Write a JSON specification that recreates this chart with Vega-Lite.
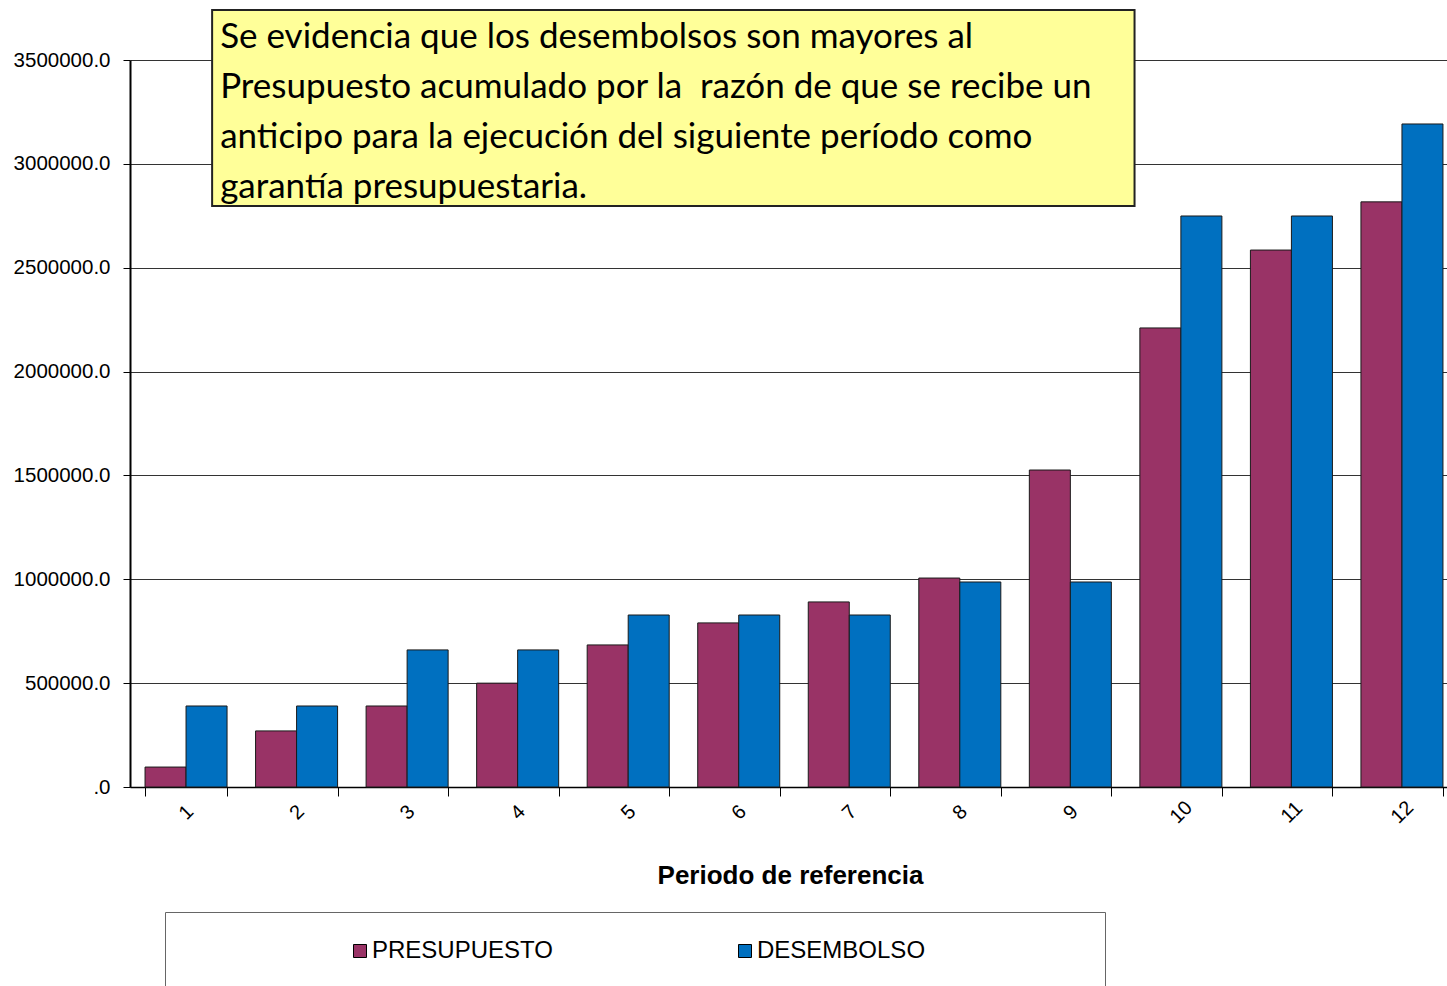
{
  "$schema": "https://vega.github.io/schema/vega-lite/v6.json",
  "width": 1328,
  "height": 727,
  "autosize": {"type": "none"},
  "padding": {"left": 130, "top": 60, "right": 0, "bottom": 199},
  "background": "white",
  "config": {"view": {"stroke": null}, "font": "Liberation Sans"},
  "data": {
    "values": [
      {"periodo": 1, "serie": "PRESUPUESTO", "valor": 96000},
      {"periodo": 1, "serie": "DESEMBOLSO", "valor": 390000},
      {"periodo": 2, "serie": "PRESUPUESTO", "valor": 270000},
      {"periodo": 2, "serie": "DESEMBOLSO", "valor": 390000},
      {"periodo": 3, "serie": "PRESUPUESTO", "valor": 390000},
      {"periodo": 3, "serie": "DESEMBOLSO", "valor": 660000},
      {"periodo": 4, "serie": "PRESUPUESTO", "valor": 500000},
      {"periodo": 4, "serie": "DESEMBOLSO", "valor": 660000},
      {"periodo": 5, "serie": "PRESUPUESTO", "valor": 684000},
      {"periodo": 5, "serie": "DESEMBOLSO", "valor": 828000},
      {"periodo": 6, "serie": "PRESUPUESTO", "valor": 790000},
      {"periodo": 6, "serie": "DESEMBOLSO", "valor": 828000},
      {"periodo": 7, "serie": "PRESUPUESTO", "valor": 891000},
      {"periodo": 7, "serie": "DESEMBOLSO", "valor": 828000},
      {"periodo": 8, "serie": "PRESUPUESTO", "valor": 1006000},
      {"periodo": 8, "serie": "DESEMBOLSO", "valor": 987000},
      {"periodo": 9, "serie": "PRESUPUESTO", "valor": 1526000},
      {"periodo": 9, "serie": "DESEMBOLSO", "valor": 987000},
      {"periodo": 10, "serie": "PRESUPUESTO", "valor": 2210000},
      {"periodo": 10, "serie": "DESEMBOLSO", "valor": 2749000},
      {"periodo": 11, "serie": "PRESUPUESTO", "valor": 2585000},
      {"periodo": 11, "serie": "DESEMBOLSO", "valor": 2749000},
      {"periodo": 12, "serie": "PRESUPUESTO", "valor": 2817000},
      {"periodo": 12, "serie": "DESEMBOLSO", "valor": 3192000}
    ]
  },
  "layer": [
    {
      "mark": {"type": "bar", "stroke": "#1a1a1a", "strokeWidth": 1},
      "encoding": {
        "x": {
          "field": "periodo",
          "type": "nominal",
          "scale": {"paddingInner": 0.258, "paddingOuter": 0.136},
          "title": "Periodo de referencia",
          "axis": {
            "labelAngle": -45,
            "labelAlign": "center",
            "labelBaseline": "middle",
            "labelFontSize": 20,
            "labelColor": "#000",
            "labelPadding": 16,
            "tickBand": "extent",
            "tickSize": 9,
            "tickColor": "#000",
            "domainColor": "#000",
            "domainWidth": 1.5,
            "grid": false,
            "titleFontSize": 26,
            "titleFontWeight": "bold",
            "titleColor": "#000",
            "titleBaseline": "middle",
            "titleX": 660,
            "titleY": 88
          }
        },
        "xOffset": {
          "field": "serie",
          "type": "nominal",
          "sort": ["PRESUPUESTO", "DESEMBOLSO"],
          "scale": {"paddingInner": 0, "paddingOuter": 0}
        },
        "y": {
          "field": "valor",
          "type": "quantitative",
          "scale": {"domain": [0, 3500000], "nice": false},
          "title": null,
          "axis": {
            "values": [0, 500000, 1000000, 1500000, 2000000, 2500000, 3000000, 3500000],
            "labelExpr": "datum.value == 0 ? '.0' : format(datum.value, '.1f')",
            "labelFontSize": 20.5,
            "labelColor": "#000",
            "labelPadding": 13,
            "tickSize": 7,
            "tickColor": "#000",
            "domainColor": "#000",
            "domainWidth": 2,
            "grid": true,
            "gridColor": "#333",
            "gridWidth": 1
          }
        },
        "color": {
          "field": "serie",
          "type": "nominal",
          "sort": ["PRESUPUESTO", "DESEMBOLSO"],
          "scale": {"domain": ["PRESUPUESTO", "DESEMBOLSO"], "range": ["#993366", "#0070C0"]},
          "legend": {
            "title": "\u00a0",
            "titleOrient": "right",
            "titlePadding": 153,
            "titleFontSize": 10,
            "orient": "none",
            "legendX": 35,
            "legendY": 852,
            "direction": "horizontal",
            "labelFontSize": 24,
            "labelColor": "#000",
            "labelOffset": 0,
            "labelLimit": 500,
            "symbolType": "square",
            "symbolSize": 169,
            "symbolStrokeColor": "#000",
            "symbolStrokeWidth": 1,
            "symbolOpacity": 1,
            "symbolOffset": 156,
            "columnPadding": 24,
            "padding": 27,
            "strokeColor": "#666",
            "fillColor": "white"
          }
        }
      }
    },
    {
      "data": {"values": [{}]},
      "mark": {"type": "rect", "fill": "#FFFF99", "stroke": "#222", "strokeWidth": 2},
      "encoding": {
        "x": {"datum": 1, "type": "nominal", "bandPosition": 0.818},
        "x2": {"datum": 10, "bandPosition": -0.065},
        "y": {"datum": 3740700, "type": "quantitative"},
        "y2": {"datum": 2797100}
      }
    },
    {
      "data": {"values": [{}]},
      "mark": {
        "type": "text",
        "text": [
          "Se evidencia que los desembolsos son mayores al",
          "Presupuesto acumulado por la \u00a0razón de que se recibe un",
          "anticipo para la ejecución del siguiente período como",
          "garantía presupuestaria."
        ],
        "font": "Lato",
        "fontSize": 35,
        "lineHeight": 50,
        "align": "left",
        "baseline": "alphabetic",
        "color": "#000"
      },
      "encoding": {
        "x": {"datum": 1, "type": "nominal", "bandPosition": 0.916},
        "y": {"datum": 3557800, "type": "quantitative"}
      }
    }
  ]
}
